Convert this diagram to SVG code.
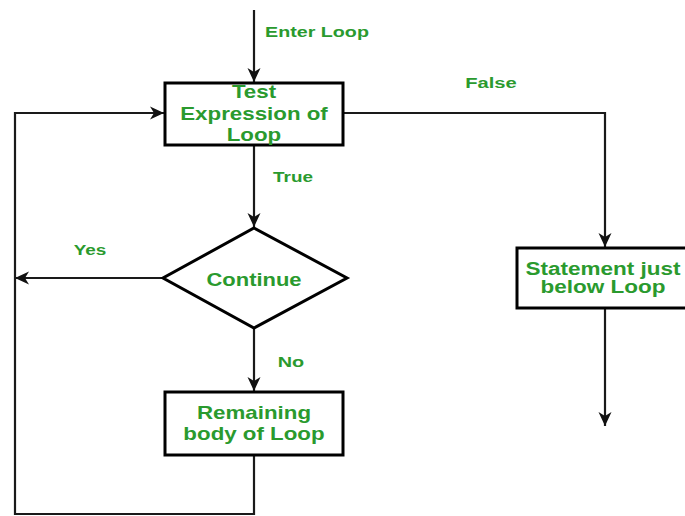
<svg xmlns="http://www.w3.org/2000/svg" width="685" height="516" viewBox="0 0 685 516">
<style>
.node{fill:#fff;stroke:#000;stroke-width:3}
.edge{fill:none;stroke:#1a1a1a;stroke-width:2.2}
.t{font-family:"Liberation Sans",Arial,sans-serif;font-weight:bold;fill:#2a9a2e;text-anchor:middle}
.n{font-size:18px}
.l{font-size:15.5px}
</style>
<defs>
<marker id="arr" markerUnits="userSpaceOnUse" markerWidth="16" markerHeight="16" viewBox="0 0 16 16" refX="14" refY="8" orient="auto">
<path d="M0,1.5 L14,8 L0,14.5 L4,8 z" fill="#111"/>
</marker>
</defs>
<rect width="685" height="516" fill="#fff"/>
<g id="connectors">
<path class="edge" d="M254,10 V82" marker-end="url(#arr)"/>
<path class="edge" d="M254,145 V227" marker-end="url(#arr)"/>
<path class="edge" d="M163,278 H15" marker-end="url(#arr)"/>
<path class="edge" d="M254,328 V391" marker-end="url(#arr)"/>
<path class="edge" d="M254,455 V514 H15 V113 H164" marker-end="url(#arr)"/>
<path class="edge" d="M343,113 H605 V247" marker-end="url(#arr)"/>
<path class="edge" d="M605,308 V426" marker-end="url(#arr)"/>
</g>
<g id="labels">
<text class="t l" transform="translate(317 37) scale(1.27 1)">Enter Loop</text>
<text class="t l" transform="translate(293 182) scale(1.22 1)">True</text>
<text class="t l" transform="translate(90 255) scale(1.22 1)">Yes</text>
<text class="t l" transform="translate(291 367) scale(1.28 1)">No</text>
<text class="t l" transform="translate(491 88) scale(1.3 1)">False</text>
</g>
<g id="test">
<rect class="node" x="165" y="83" width="178" height="62"/>
<text class="t n" transform="translate(254 98) scale(1.24 1)">Test</text>
<text class="t n" transform="translate(254 120) scale(1.24 1)">Expression of</text>
<text class="t n" transform="translate(254 141) scale(1.24 1)">Loop</text>
</g>
<g id="continue">
<polygon class="node" points="254,228 347,278 254,328 163,278"/>
<text class="t n" transform="translate(254 286) scale(1.22 1)">Continue</text>
</g>
<g id="remaining">
<rect class="node" x="165" y="392" width="178" height="63"/>
<text class="t n" transform="translate(254 419) scale(1.24 1)">Remaining</text>
<text class="t n" transform="translate(254 440) scale(1.24 1)">body of Loop</text>
</g>
<g id="statement">
<rect class="node" x="517" y="248" width="176" height="60"/>
<text class="t n" transform="translate(603 275) scale(1.25 1)">Statement just</text>
<text class="t n" transform="translate(603 293) scale(1.25 1)">below Loop</text>
</g>
</svg>
